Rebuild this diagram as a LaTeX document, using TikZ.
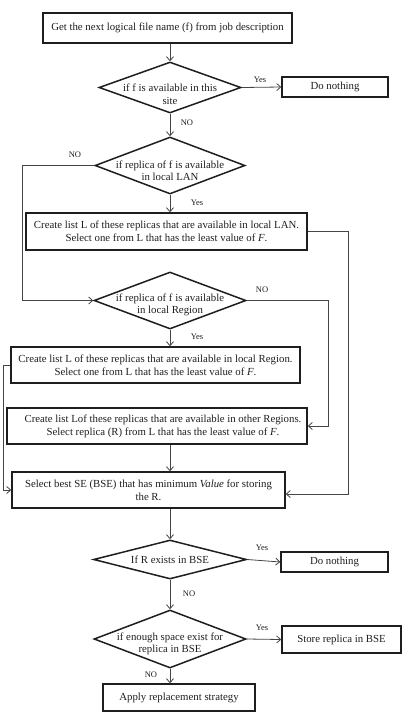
\documentclass[tikz,border=0pt]{standalone}
\usepackage{fontspec}
\setmainfont{Liberation Serif}
\usetikzlibrary{shapes.geometric,arrows.meta,calc}
\definecolor{ink}{HTML}{1E1E1E}
\definecolor{wire}{HTML}{454545}
\begin{document}
\begin{tikzpicture}[x=1pt,y=-1pt,
  every node/.style={text=ink},
  box/.style={draw=ink,line width=1.5pt,rectangle,inner sep=0pt,align=center,
    font=\fontsize{10.8}{13}\selectfont},
  diam/.style={draw=ink,line width=1.5pt,diamond,inner sep=0pt},
  dtext/.style={align=center,inner sep=0pt,font=\fontsize{10.8}{12.5}\selectfont},
  lbl/.style={inner sep=0pt,font=\fontsize{8.5}{10}\selectfont},
  flow/.style={draw=wire,line width=0.8pt,-{Straight Barb[length=4pt,width=7pt]}}]
\useasboundingbox (0,0) rectangle (407,713);
\coordinate (spine) at (170,0);

% process boxes
\node[box,minimum width=249pt,minimum height=30pt] (b1) at (167.5,28)
  {Get the next logical file name (f) from job description};
\node[box,minimum width=106pt,minimum height=20pt] (dn1) at (335,87)
  {Do nothing};
\node[box,minimum width=281pt,minimum height=37pt] (b2) at (166.5,231.5)
  {Create list L of these replicas that are available in local LAN.\\
   Select one from L that has the least value of \textit{F}.};
\node[box,minimum width=289pt,minimum height=36pt] (b3) at (155.5,365)
  {Create list L of these replicas that are available in local Region.\\
   Select one from L that has the least value of \textit{F}.};
\node[box,minimum width=300pt,minimum height=36pt] (b4) at (157,426)
  {\hspace*{12pt}Create list Lof these replicas that are available in other Regions.\\
   \hspace*{12pt}Select replica (R) from L that has the least value of \textit{F}.};
\node[box,minimum width=273pt,minimum height=36pt] (b5) at (148.5,490)
  {Select best SE (BSE) that has minimum \textit{Value} for storing\\ the R.};
\node[box,minimum width=107pt,minimum height=20pt] (dn2) at (334.5,562)
  {Do nothing};
\node[box,minimum width=119pt,minimum height=27pt] (b7) at (341.5,639.5)
  {Store replica in BSE};
\node[box,minimum width=152pt,minimum height=27pt] (b8) at (179,697.5)
  {Apply replacement strategy};

% decisions
\node[diam,minimum width=142pt,minimum height=51pt] (d1) at (170,87.5) {};
\node[diam,minimum width=150pt,minimum height=57pt] (d2) at (170,165.5) {};
\node[diam,minimum width=152pt,minimum height=57pt] (d3) at (170,300.5) {};
\node[diam,minimum width=153pt,minimum height=39pt] (d4) at (170,559.5) {};
\node[diam,minimum width=152pt,minimum height=58pt] (d5) at (170,639) {};
\node[dtext] (d1t) at (170,94) {if f is available in this\\site};
\node[dtext] (d2t) at (170,170.5) {if replica of f is available\\in local LAN};
\node[dtext] (d3t) at (170,305) {if replica of f is available\\in local Region};
\node[dtext] (d4t) at (170,560) {If R exists in BSE};
\node[dtext] (d5t) at (170,644) {if enough space exist for\\replica in BSE};

% branch labels
\node[lbl] (y1) at (260,80) {Yes};
\node[lbl] (n1) at (187,123) {NO};
\node[lbl] (n2) at (75,155) {NO};
\node[lbl] (y2) at (197,203) {Yes};
\node[lbl] (n3) at (262,290) {NO};
\node[lbl] (y3) at (197,337) {Yes};
\node[lbl] (y4) at (262,548) {Yes};
\node[lbl] (n4) at (189,594) {NO};
\node[lbl] (y5) at (262,628) {Yes};
\node[lbl] (n5) at (151,675) {NO};

% main column
\draw[flow] (b1.south -| spine) -- (d1.north);
\draw[flow] (d1.south) -- (d2.north);
\draw[flow] (d2.south) -- (b2.north -| spine);
\draw[flow] (d3.south) -- (b3.north -| spine);
\draw[flow] (b4.south -| spine) -- (b5.north -| spine);
\draw[flow] (b5.south -| spine) -- (d4.north);
\draw[flow] (d4.south) -- (d5.north);
\draw[flow] (d5.south) -- (b8.north -| spine);

% side exits
\draw[flow] (d1.east) -- (dn1.west);
\draw[flow] (d4.east) -- (dn2.west);
\draw[flow] (d5.east) -- (b7.west);
\draw[flow] (d2.west) -- (22,165.5) |- (d3.west);
\draw[flow] (b2.east) -- (348,231.5) |- ([yshift=-4pt]b5.east);
\draw[flow] (d3.east) -- (328,300.5) |- (b4.east);
\draw[flow] (b3.west) -- (3,365) |- (b5.west);
\end{tikzpicture}
\end{document}
